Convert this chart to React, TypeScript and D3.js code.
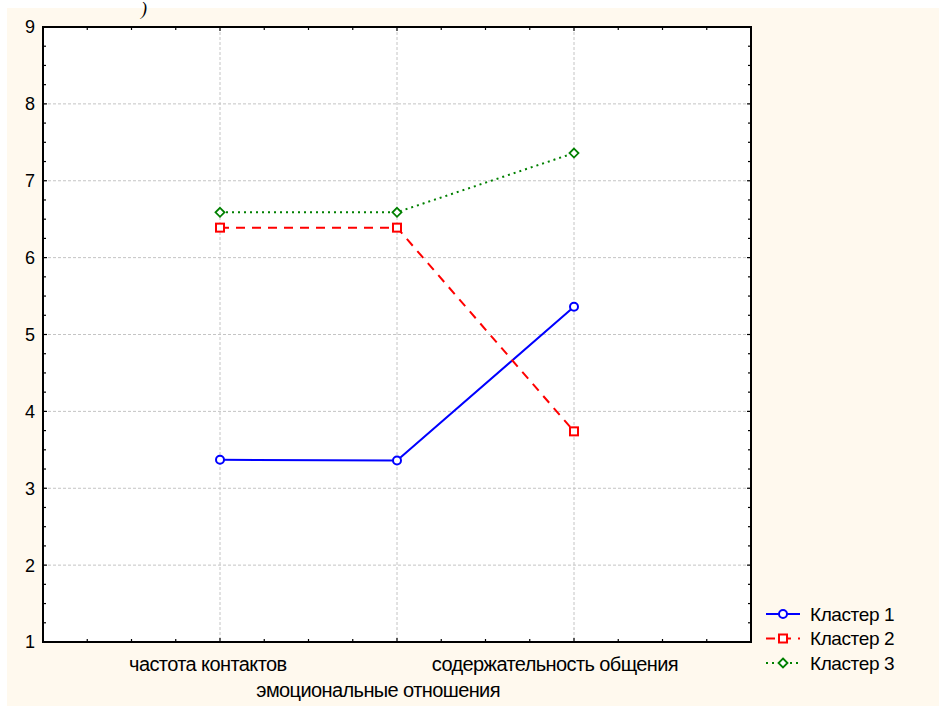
import { useRef, useEffect } from "react";
import * as d3 from "d3";

const categories = [
  "частота контактов",
  "эмоциональные отношения",
  "содержательность общения",
];
const seriesNames = ["Кластер 1", "Кластер 2", "Кластер 3"];
const cluster1 = [3.37, 3.36, 5.36];
const cluster2 = [6.39, 6.39, 3.74];
const cluster3 = [6.59, 6.59, 7.36];
const yTicks = [1, 2, 3, 4, 5, 6, 7, 8, 9];

export default function App() {
  const chartRef = useRef<HTMLDivElement>(null);

  useEffect(() => {
    if (!chartRef.current) return;
    d3.select(chartRef.current).selectAll("*").remove();

    const width = 939;
    const height = 706;
    const plot = { left: 43, right: 751, top: 27, bottom: 642 };
    const font = "'Liberation Sans', Arial, sans-serif";

    const svg = d3
      .select(chartRef.current)
      .append("svg")
      .attr("width", width)
      .attr("height", height)
      .style("position", "absolute")
      .style("left", "0px")
      .style("top", "0px");

    // cream background panel
    svg
      .append("rect")
      .attr("x", 7)
      .attr("y", 8)
      .attr("width", width - 7)
      .attr("height", height - 8)
      .attr("fill", "#fff9ee");

    // bracket left over from the text above
    svg
      .append("text")
      .attr("x", 141)
      .attr("y", 15)
      .attr("font-family", "'Liberation Serif', serif")
      .attr("font-size", "18px")
      .attr("font-style", "italic")
      .text(")");

    // category index 1..3 inside a domain of 0..4
    const x = d3.scaleLinear().domain([0, 4]).range([plot.left, plot.right]);
    const y = d3.scaleLinear().domain([1, 9]).range([plot.bottom, plot.top]);

    svg
      .append("rect")
      .attr("x", plot.left)
      .attr("y", plot.top)
      .attr("width", plot.right - plot.left)
      .attr("height", plot.bottom - plot.top)
      .attr("fill", "#fff");

    // grid
    const grid = svg.append("g").attr("stroke", "#c4c4c4").attr("stroke-dasharray", "3,2");
    yTicks.slice(1, -1).forEach((v) => {
      grid
        .append("line")
        .attr("x1", plot.left)
        .attr("x2", plot.right)
        .attr("y1", y(v))
        .attr("y2", y(v));
    });
    categories.forEach((_, i) => {
      grid
        .append("line")
        .attr("x1", x(i + 1))
        .attr("x2", x(i + 1))
        .attr("y1", plot.top)
        .attr("y2", plot.bottom);
    });

    // inward ticks on all four sides
    const ticks = svg.append("g").attr("stroke", "#000").attr("stroke-width", 1.2);
    d3.range(0, 4.01, 0.25).forEach((v) => {
      const len = Number.isInteger(v) ? 4 : 3;
      ticks.append("line").attr("x1", x(v)).attr("x2", x(v)).attr("y1", plot.bottom).attr("y2", plot.bottom - len);
      ticks.append("line").attr("x1", x(v)).attr("x2", x(v)).attr("y1", plot.top).attr("y2", plot.top + len);
    });
    d3.range(1, 9.01, 0.25).forEach((v) => {
      const len = Number.isInteger(v) ? 4 : 3;
      ticks.append("line").attr("x1", plot.left).attr("x2", plot.left + len).attr("y1", y(v)).attr("y2", y(v));
      ticks.append("line").attr("x1", plot.right).attr("x2", plot.right - len).attr("y1", y(v)).attr("y2", y(v));
    });

    // frame
    svg
      .append("rect")
      .attr("x", plot.left)
      .attr("y", plot.top)
      .attr("width", plot.right - plot.left)
      .attr("height", plot.bottom - plot.top)
      .attr("fill", "none")
      .attr("stroke", "#000")
      .attr("stroke-width", 2);

    // y labels
    svg
      .selectAll(".ylab")
      .data(yTicks)
      .enter()
      .append("text")
      .attr("x", 35)
      .attr("y", (d) => y(d))
      .attr("dy", "0.36em")
      .attr("text-anchor", "end")
      .attr("font-family", font)
      .attr("font-size", "18px")
      .text((d) => d);

    // x labels, middle one staggered below; the original sits a bit left of the grid line
    svg
      .selectAll(".xlab")
      .data(categories)
      .enter()
      .append("text")
      .attr("y", (_, i) => (i === 1 ? 697 : 671))
      .attr("text-anchor", "start")
      .attr("font-family", font)
      .attr("font-size", "20px")
      .attr("letter-spacing", "-0.6px")
      .text((d) => d)
      .each(function (_, i) {
        const len = (this as SVGTextElement).getComputedTextLength();
        d3.select(this).attr("x", x(i + 1) - (len * 1.155) / 2);
      });

    const series = [
      { name: seriesNames[0], values: cluster1, color: "#0000ff", dash: null, marker: "circle" },
      { name: seriesNames[1], values: cluster2, color: "#ff0000", dash: "9,7", marker: "square" },
      { name: seriesNames[2], values: cluster3, color: "#008000", dash: "2,4", marker: "diamond" },
    ];

    const line = d3
      .line<number>()
      .x((_, i) => x(i + 1))
      .y((d) => y(d));

    const drawMarker = (g: any, kind: string, cx: number, cy: number, color: string) => {
      if (kind === "circle") {
        g.append("circle").attr("cx", cx).attr("cy", cy).attr("r", 4)
          .attr("fill", "#fff").attr("stroke", color).attr("stroke-width", 2);
      } else if (kind === "square") {
        g.append("rect").attr("x", cx - 4).attr("y", cy - 4).attr("width", 8).attr("height", 8)
          .attr("fill", "#fff").attr("stroke", color).attr("stroke-width", 2);
      } else {
        g.append("path")
          .attr("d", `M${cx},${cy - 4.5}L${cx + 4.5},${cy}L${cx},${cy + 4.5}L${cx - 4.5},${cy}Z`)
          .attr("fill", "#fff").attr("stroke", color).attr("stroke-width", 1.8);
      }
    };

    series.forEach((s) => {
      svg
        .append("path")
        .datum(s.values)
        .attr("d", line)
        .attr("fill", "none")
        .attr("stroke", s.color)
        .attr("stroke-width", 2)
        .attr("stroke-dasharray", s.dash);
      const g = svg.append("g");
      s.values.forEach((v, i) => drawMarker(g, s.marker, x(i + 1), y(v), s.color));
    });

    // legend
    const legend = svg.append("g").attr("transform", "translate(766, 614)");
    series.forEach((s, i) => {
      const ly = i * 24.5;
      legend
        .append("line")
        .attr("x1", 0)
        .attr("x2", 34)
        .attr("y1", ly)
        .attr("y2", ly)
        .attr("stroke", s.color)
        .attr("stroke-width", 2)
        .attr("stroke-dasharray", s.dash);
      drawMarker(legend, s.marker, 17, ly, s.color);
      legend
        .append("text")
        .attr("x", 44)
        .attr("y", ly)
        .attr("dy", "0.36em")
        .attr("font-family", font)
        .attr("font-size", "19px")
        .attr("letter-spacing", "-0.4px")
        .text(s.name);
    });
  }, []);

  return <div ref={chartRef}></div>;
}
